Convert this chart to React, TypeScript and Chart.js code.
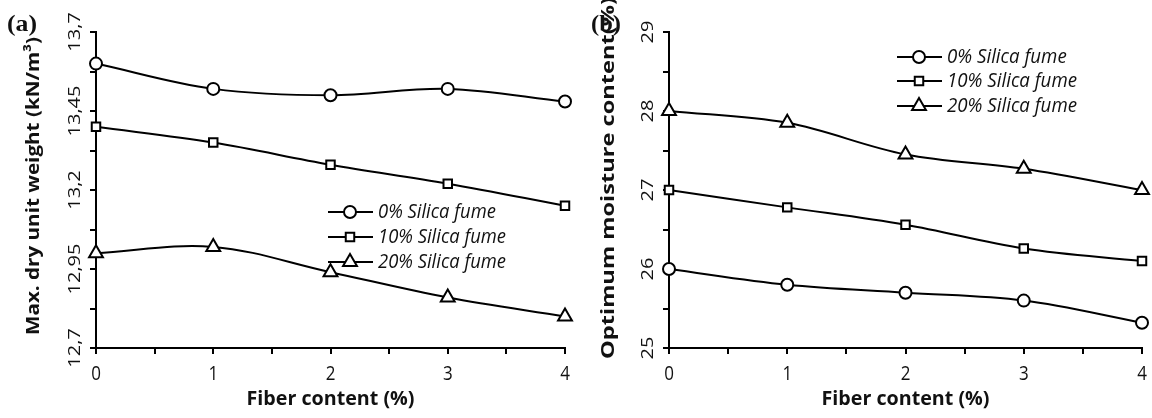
import React, { useEffect, useRef } from 'react';
import { Chart, registerables } from 'chart.js';

Chart.register(...registerables);

// ---------- data ----------
const fiberContent = [0, 1, 2, 3, 4];
const seriesLabels = ['0% Silica fume', '10% Silica fume', '20% Silica fume'];

const dryWeight0 = [13.6, 13.52, 13.5, 13.52, 13.48];
const dryWeight10 = [13.4, 13.35, 13.28, 13.22, 13.15];
const dryWeight20 = [13.0, 13.02, 12.94, 12.86, 12.8];

const moisture0 = [26.0, 25.8, 25.7, 25.6, 25.32];
const moisture10 = [27.0, 26.78, 26.56, 26.26, 26.1];
const moisture20 = [28.0, 27.85, 27.45, 27.27, 27.0];

const xTickValues = [0, 0.5, 1, 1.5, 2, 2.5, 3, 3.5, 4];
const xTickLabels = ['0', '', '1', '', '2', '', '3', '', '4'];

const weightTickValues = [12.7, 12.825, 12.95, 13.075, 13.2, 13.325, 13.45, 13.575, 13.7];
const weightTickLabels = ['12,7', '', '12,95', '', '13,2', '', '13,45', '', '13,7'];

const moistureTickValues = [25, 25.5, 26, 26.5, 27, 27.5, 28, 28.5, 29];
const moistureTickLabels = ['25', '', '26', '', '27', '', '28', '', '29'];

const xTitle = 'Fiber content (%)';
const weightTitle = 'Max. dry unit weight (kN/m³)';
const moistureTitle = 'Optimum moisture content(%)';

// ---------- styling ----------
const INK = '#111';
const SQ = 0.8; // horizontal squeeze of the original image
const styles = ['circle', 'rect', 'triangle'];
const radii = [6, 6, 8];

function drawText(ctx: CanvasRenderingContext2D, s: string, x: number, y: number, font: string, o: any = {}) {
  ctx.save();
  ctx.font = font;
  ctx.fillStyle = INK;
  ctx.translate(x, y);
  if (o.rot) ctx.rotate(-Math.PI / 2);
  const w = ctx.measureText(s).width;
  const along = o.len ? o.len / w : (o.along ?? 1);
  const thick = o.thick ?? 1;
  ctx.scale(along, thick);
  ctx.textAlign = o.align ?? 'center';
  ctx.textBaseline = o.baseline ?? 'middle';
  ctx.fillText(s, 0, 0);
  ctx.restore();
}

function drawMarker(ctx: CanvasRenderingContext2D, style: string, x: number, y: number, r: number) {
  ctx.save();
  ctx.beginPath();
  if (style === 'circle') {
    ctx.arc(x, y, r, 0, Math.PI * 2);
  } else if (style === 'rect') {
    const h = r * Math.SQRT1_2;
    ctx.rect(x - h, y - h, 2 * h, 2 * h);
  } else {
    let a = 0;
    ctx.moveTo(x + Math.sin(a) * r, y - Math.cos(a) * r);
    a += (2 * Math.PI) / 3;
    ctx.lineTo(x + Math.sin(a) * r, y - Math.cos(a) * r);
    a += (2 * Math.PI) / 3;
    ctx.lineTo(x + Math.sin(a) * r, y - Math.cos(a) * r);
    ctx.closePath();
  }
  ctx.fillStyle = '#fff';
  ctx.fill();
  ctx.lineWidth = 2;
  ctx.strokeStyle = '#000';
  ctx.stroke();
  ctx.restore();
}

type PanelCfg = {
  series: number[][];
  yMin: number;
  yMax: number;
  yTicks: number[];
  yLabels: string[];
  yTitle: string;
  yTitleX: number;
  yTitleY: number;
  yTitleLen: number;
  panel: string;
  panelX: number;
  padLeft: number;
  padRight: number;
  legendDx: number;
  legendRows: number[];
  legendLen: number;
};

function makeChart(canvas: HTMLCanvasElement, cfg: PanelCfg) {
  const decoPlugin = {
    id: 'deco',
    afterDraw(chart: any) {
      const ctx: CanvasRenderingContext2D = chart.ctx;
      const xs = chart.scales.x;
      const ys = chart.scales.y;
      const area = chart.chartArea;
      // y tick labels (rotated)
      cfg.yTicks.forEach((v, i) => {
        const lab = cfg.yLabels[i];
        if (!lab) return;
        drawText(ctx, lab, area.left - 16, ys.getPixelForValue(v), '20px "Open Sans"', {
          rot: true,
          baseline: 'alphabetic',
          thick: SQ,
          along: 1,
        });
      });
      // x tick labels
      xTickValues.forEach((v, i) => {
        const lab = xTickLabels[i];
        if (!lab) return;
        drawText(ctx, lab, xs.getPixelForValue(v), area.bottom + 32, '20px "Open Sans"', {
          baseline: 'alphabetic',
          along: 0.85,
        });
      });
      // x title
      drawText(ctx, xTitle, (area.left + area.right) / 2, area.bottom + 57, 'bold 20px "Open Sans"', {
        baseline: 'alphabetic',
        len: 168,
      });
      // y title
      drawText(ctx, cfg.yTitle, cfg.yTitleX, cfg.yTitleY, 'bold 20px "Open Sans"', {
        rot: true,
        baseline: 'middle',
        len: cfg.yTitleLen,
        thick: 0.92,
      });
      // panel label
      drawText(ctx, cfg.panel, cfg.panelX, 31, 'bold 24px "Liberation Serif"', {
        baseline: 'alphabetic',
        len: 30,
      });
      // legend
      const lx = area.left + cfg.legendDx;
      ctx.save();
      ctx.font = 'italic 20px "Open Sans"';
      const refW = ctx.measureText(seriesLabels[1]).width;
      ctx.restore();
      const k = cfg.legendLen / refW;
      cfg.legendRows.forEach((ry, i) => {
        ctx.save();
        ctx.strokeStyle = '#000';
        ctx.lineWidth = 2;
        ctx.beginPath();
        ctx.moveTo(lx, ry);
        ctx.lineTo(lx + 45, ry);
        ctx.stroke();
        ctx.restore();
        drawMarker(ctx, styles[i], lx + 22, ry, radii[i]);
        drawText(ctx, seriesLabels[i], lx + 50, ry, 'italic 20px "Open Sans"', {
          baseline: 'middle',
          align: 'left',
          along: k,
        });
      });
    },
  };

  return new Chart(canvas, {
    type: 'line',
    data: {
      datasets: cfg.series.map((vals, i) => ({
        label: seriesLabels[i],
        data: fiberContent.map((x, j) => ({ x, y: vals[j] })),
        borderColor: '#000',
        borderWidth: 2,
        pointStyle: styles[i] as any,
        pointRadius: radii[i],
        pointBackgroundColor: '#fff',
        pointBorderColor: '#000',
        pointBorderWidth: 2,
        tension: 0.35,
        fill: false,
        clip: false as any,
      })),
    },
    options: {
      responsive: false,
      animation: false,
      devicePixelRatio: 1,
      layout: { padding: { left: cfg.padLeft, right: cfg.padRight, top: 32, bottom: 60 } },
      plugins: { legend: { display: false }, tooltip: { enabled: false } },
      scales: {
        x: {
          type: 'linear',
          min: 0,
          max: 4,
          afterBuildTicks: (s: any) => {
            s.ticks = xTickValues.map((v) => ({ value: v }));
          },
          afterFit: (s: any) => {
            s.height = 10;
          },
          ticks: { display: false },
          grid: { drawOnChartArea: false, drawTicks: true, tickLength: 6, color: '#000', lineWidth: 2 },
          border: { display: true, color: '#000', width: 2 },
        },
        y: {
          type: 'linear',
          min: cfg.yMin,
          max: cfg.yMax,
          afterBuildTicks: (s: any) => {
            s.ticks = cfg.yTicks.map((v) => ({ value: v }));
          },
          afterFit: (s: any) => {
            s.width = 10;
          },
          ticks: { display: false },
          grid: { drawOnChartArea: false, drawTicks: true, tickLength: 6, color: '#000', lineWidth: 2 },
          border: { display: true, color: '#000', width: 2 },
        },
      },
    },
    plugins: [decoPlugin],
  } as any);
}

function Panel({ cfg, left }: { cfg: PanelCfg; left: number }) {
  const ref = useRef<HTMLCanvasElement>(null);
  useEffect(() => {
    if (!ref.current) return;
    const ch = makeChart(ref.current, cfg);
    return () => ch.destroy();
  }, []);
  return (
    <canvas
      ref={ref}
      width={576}
      height={418}
      style={{ position: 'absolute', left, top: 0, width: 576, height: 418, display: 'block' }}
    />
  );
}

const panelA: PanelCfg = {
  series: [dryWeight0, dryWeight10, dryWeight20],
  yMin: 12.7,
  yMax: 13.7,
  yTicks: weightTickValues,
  yLabels: weightTickLabels,
  yTitle: weightTitle,
  yTitleX: 34,
  yTitleY: 186,
  yTitleLen: 298,
  panel: '(a)',
  panelX: 22,
  padLeft: 86,
  padRight: 11,
  legendDx: 232,
  legendRows: [212, 237, 262],
  legendLen: 128,
};

const panelB: PanelCfg = {
  series: [moisture0, moisture10, moisture20],
  yMin: 25,
  yMax: 29,
  yTicks: moistureTickValues,
  yLabels: moistureTickLabels,
  yTitle: moistureTitle,
  yTitleX: 33,
  yTitleY: 178,
  yTitleLen: 362,
  panel: '(b)',
  panelX: 30,
  padLeft: 83,
  padRight: 7,
  legendDx: 228,
  legendRows: [57, 81, 106],
  legendLen: 130,
};

export default function App() {
  return (
    <div style={{ position: 'fixed', left: 0, top: 0, width: 1152, height: 418, background: '#fff', overflow: 'hidden' }}>
      <Panel cfg={panelA} left={0} />
      <Panel cfg={panelB} left={576} />
    </div>
  );
}
